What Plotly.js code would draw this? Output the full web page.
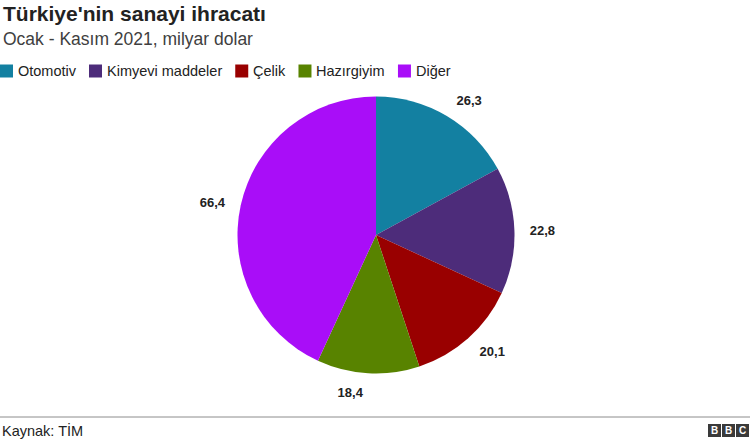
<!DOCTYPE html>
<html>
<head>
<meta charset="utf-8">
<script src="https://cdn.plot.ly/plotly-3.0.1.min.js"></script>
<style>html,body{margin:0;padding:0;background:#fff;}#chart{width:750px;height:443px;}</style>
</head>
<body>
<div id="chart"></div>
<script>
const categories = ["Otomotiv", "Kimyevi maddeler", "Çelik", "Hazırgiyim", "Diğer"];
const values = [26.3, 22.8, 20.1, 18.4, 66.4];
const colors = ["#1380A1", "#4D2C7A", "#990000", "#588300", "#A90DF8"];
const titleText = "Türkiye'nin sanayi ihracatı";
const subtitleText = "Ocak - Kasım 2021, milyar dolar";
const sourceText = "Kaynak: TİM";

const FONT = "Liberation Sans, Arial, Helvetica, sans-serif";
const W = 750, H = 443;
const cx = 376, cy = 235, R = 138.5, RTEXT = 150;
const py = function (pix) { return 1 - pix / H; };
const pieDomain = function (r) {
  return {x: [(cx - r) / W, (cx + r) / W], y: [(H - cy - r) / H, (H - cy + r) / H]};
};

// Visible pie (no text)
const pieTrace = {
  type: "pie",
  labels: categories,
  values: values,
  sort: false,
  direction: "clockwise",
  rotation: 0,
  marker: {colors: colors, line: {width: 0}},
  textinfo: "none",
  showlegend: false,
  hoverinfo: "label+value",
  domain: pieDomain(R)
};
// Transparent, slightly larger pie only carrying the outside value labels
const labelTrace = {
  type: "pie",
  labels: categories,
  values: values,
  sort: false,
  direction: "clockwise",
  rotation: 0,
  marker: {colors: categories.map(function () { return "rgba(0,0,0,0)"; }), line: {width: 0}},
  textposition: "outside",
  texttemplate: "%{value:.1f}",
  textfont: {family: FONT, size: 13, color: "#222222", weight: "bold"},
  showlegend: false,
  hoverinfo: "skip",
  domain: pieDomain(RTEXT)
};

// Legend built from categories/colors, text widths measured with canvas
const LEGEND_SIZE = 14.5;
const ctx = document.createElement("canvas").getContext("2d");
ctx.font = LEGEND_SIZE + "px " + FONT;
const legendY = 71, sq = 13;
const shapes = [
  {type: "line", xref: "paper", yref: "paper", x0: 0, x1: 1, y0: py(417), y1: py(417), line: {color: "#8c8c8c", width: 1}}
];
const annotations = [
  {text: "<b>" + titleText + "</b>", x: 1 / W, y: py(14), xref: "paper", yref: "paper",
   xanchor: "left", yanchor: "middle", showarrow: false, font: {family: FONT, size: 21, color: "#222222"}},
  {text: subtitleText, x: 1 / W, y: py(39), xref: "paper", yref: "paper",
   xanchor: "left", yanchor: "middle", showarrow: false, font: {family: FONT, size: 17.5, color: "#404040"}},
  {text: sourceText, x: 0, y: py(430), xref: "paper", yref: "paper",
   xanchor: "left", yanchor: "middle", showarrow: false, font: {family: FONT, size: 14.5, color: "#222222"}}
];
let lx = 0;
categories.forEach(function (name, i) {
  shapes.push({type: "rect", xref: "paper", yref: "paper", x0: lx / W, x1: (lx + sq) / W,
    y0: py(legendY + sq / 2), y1: py(legendY - sq / 2), fillcolor: colors[i], line: {width: 0}});
  const tx = lx + sq + 3;
  annotations.push({text: name, x: tx / W, y: py(legendY), xref: "paper", yref: "paper",
    xanchor: "left", yanchor: "middle", showarrow: false, font: {family: FONT, size: LEGEND_SIZE, color: "#222222"}});
  lx = tx + ctx.measureText(name).width + 15;
});

// BBC logo blocks
["B", "B", "C"].forEach(function (ch, i) {
  const x0 = 708 + i * 14;
  shapes.push({type: "rect", xref: "paper", yref: "paper", x0: x0 / W, x1: (x0 + 13) / W,
    y0: py(437), y1: py(424), fillcolor: "#3a3a3a", line: {width: 0}});
  annotations.push({text: "<b>" + ch + "</b>", x: (x0 + 6.5) / W, y: py(430.5), xref: "paper", yref: "paper",
    xanchor: "center", yanchor: "middle", showarrow: false, font: {family: FONT, size: 10, color: "#ffffff"}});
});

const layout = {
  width: W, height: H,
  margin: {l: 0, r: 0, t: 0, b: 0},
  paper_bgcolor: "#ffffff",
  separators: ",.",
  font: {family: FONT, color: "#222222"},
  showlegend: false,
  annotations: annotations,
  shapes: shapes
};

Plotly.newPlot("chart", [pieTrace, labelTrace], layout, {displayModeBar: false, staticPlot: true});
</script>
</body>
</html>
